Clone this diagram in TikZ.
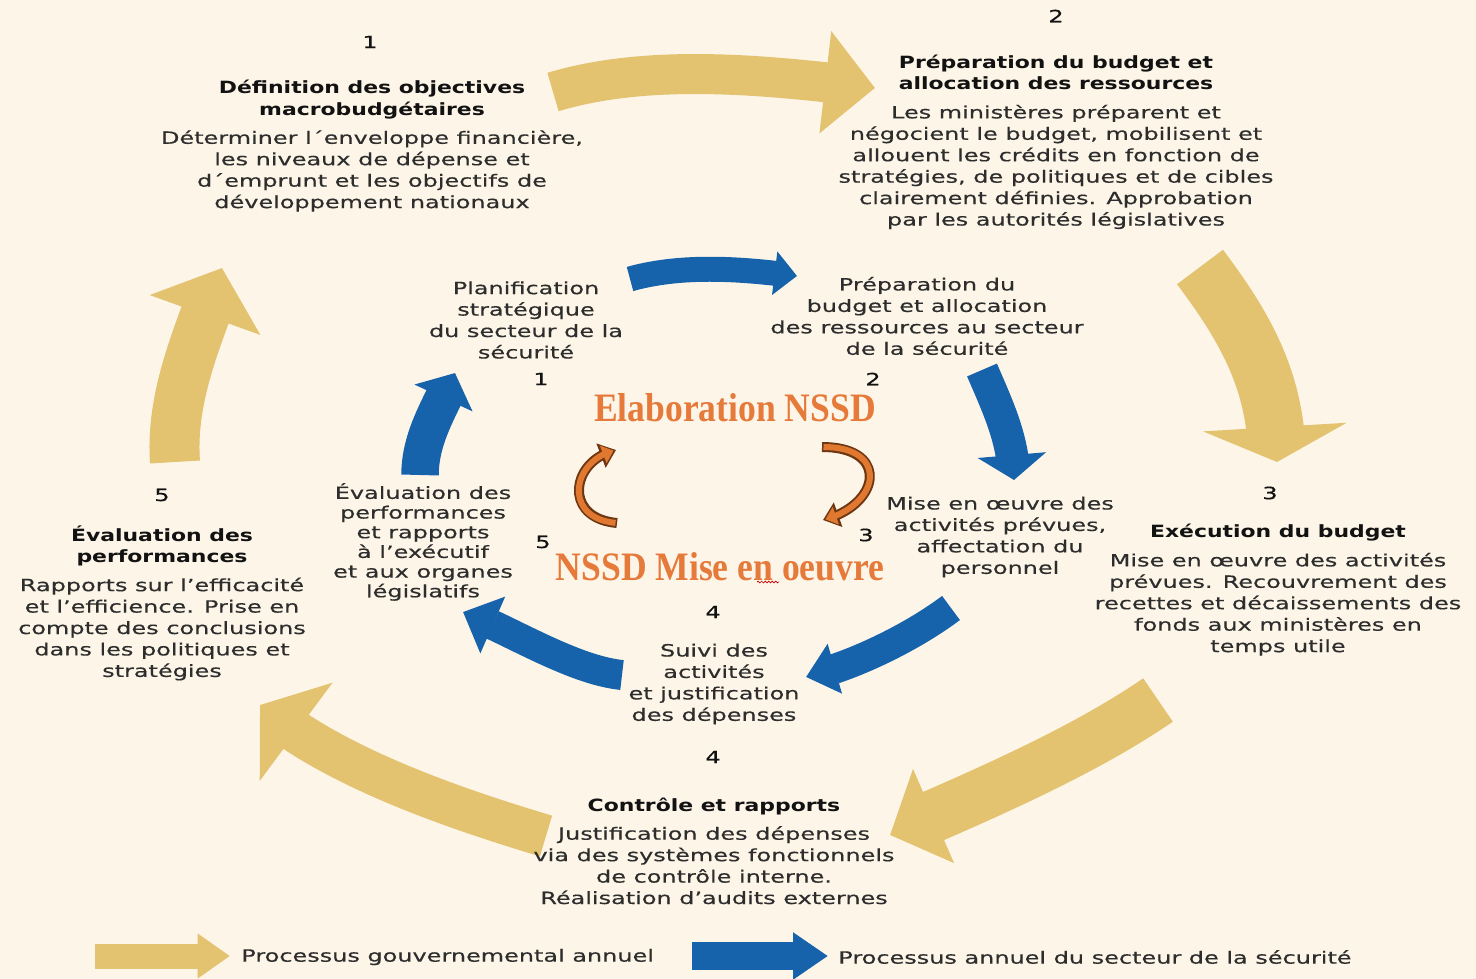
\documentclass[tikz,border=0pt]{standalone}
\usepackage{fontspec}
\setmainfont{DejaVu Sans}[FakeStretch=1.42,UprightFeatures={FakeBold=0.4},BoldFeatures={FakeStretch=1.3}]
\newfontfamily\nssdfont{Liberation Serif}[FakeStretch=0.88]
\usetikzlibrary{arrows.meta,bending,decorations.pathmorphing}
\definecolor{bgcream}{RGB}{253,246,232}
\definecolor{goldfill}{RGB}{227,194,112}
\definecolor{secblue}{RGB}{22,99,171}
\definecolor{ordark}{RGB}{110,55,20}
\definecolor{orfill}{RGB}{225,120,48}
\definecolor{nssdtext}{RGB}{230,122,58}
\definecolor{bodytext}{RGB}{45,45,45}
\definecolor{titletext}{RGB}{18,18,18}
\newcommand{\ttl}[1]{{\color{titletext}\bfseries #1}}
\tikzset{
  basetext/.style={align=center,inner sep=0pt,text=bodytext,font=\fontsize{9.6}{12.2}\selectfont},
  numnode/.style={basetext,text=titletext},
  stagenode/.style={basetext},
  secnode/.style={basetext},
  legnode/.style={basetext,anchor=west},
  nssdnode/.style={inner sep=0pt,text=nssdtext,font=\nssdfont\bfseries\fontsize{23}{26}\selectfont},
  goldarr/.style n args={3}{line width=#1,color=goldfill,-{Triangle[length=#2,width=#3]}},
  bluearr/.style n args={3}{line width=#1,color=secblue,-{Triangle[length=#2,width=#3]}},
  orouter/.style={line width=0.2cm,color=ordark,-{Triangle[length=0.32cm,width=0.5cm]}},
  orinner/.style={line width=0.12cm,color=orfill,shorten <=0.03cm,shorten >=0.05cm,-{Triangle[length=0.22cm,width=0.36cm]}},
  squiggle/.style={red!80!black,line width=0.4pt,decorate,decoration={snake,amplitude=0.5pt,segment length=2pt}}
}

\begin{document}
\begin{tikzpicture}[x=0.02cm,y=-0.02cm]
  \fill[bgcream] (0,0) rectangle (1476,979);
  \useasboundingbox (0,0) rectangle (1476,979);

  \coordinate (gAs) at (553,92);   \coordinate (gAe) at (875,88);
  \coordinate (gBs) at (1200,267); \coordinate (gBe) at (1277,462);
  \coordinate (gCs) at (1158,700); \coordinate (gCe) at (890,835);
  \coordinate (gDs) at (546,836);  \coordinate (gDe) at (260,705);
  \coordinate (gEs) at (175,462);  \coordinate (gEe) at (222,268);
  \coordinate (bAs) at (630,279);  \coordinate (bAe) at (797,276);
  \coordinate (bBs) at (982,370);  \coordinate (bBe) at (1014,480);
  \coordinate (bCs) at (951,608);  \coordinate (bCe) at (806,677);
  \coordinate (bDs) at (622,675);  \coordinate (bDe) at (463,612);
  \coordinate (bEs) at (420,475);  \coordinate (bEe) at (455,373);
  \coordinate (oLs) at (617,523);  \coordinate (oLe) at (616,450);
  \coordinate (oRs) at (822,447);  \coordinate (oRe) at (823,520);
  \coordinate (lgs) at (95,956);   \coordinate (lge) at (230,956);
  \coordinate (lbs) at (692,956);  \coordinate (lbe) at (828,956);

  \draw[goldarr={0.8cm}{1cm}{2cm}] (gAs) .. controls +(100,-30) and +(-100,-12) .. (gAe);
  \draw[goldarr={1.15cm}{0.7cm}{2.85cm}] (gBs) .. controls +(45,60) and +(0,-80) .. (gBe);
  \draw[goldarr={1.05cm}{0.95cm}{2cm}] (gCs) .. controls +(-80,55) and +(80,-35) .. (gCe);
  \draw[goldarr={0.85cm}{0.9cm}{2.4cm}] (gDs) .. controls +(-100,-30) and +(70,60) .. (gDe);
  \draw[goldarr={1cm}{1cm}{2.3cm}] (gEs) .. controls +(-5,-70) and +(-20,60) .. (gEe);

  \draw[bluearr={0.5cm}{0.45cm}{0.85cm}] (bAs) .. controls +(50,-14) and +(-60,-8) .. (bAe);
  \draw[bluearr={0.65cm}{0.5cm}{1.35cm}] (bBs) .. controls +(15,35) and +(0,-40) .. (bBe);
  \draw[bluearr={0.6cm}{0.6cm}{1cm}] (bCs) .. controls +(-40,30) and +(45,-10) .. (bCe);
  \draw[bluearr={0.6cm}{0.65cm}{1.2cm}] (bDs) .. controls +(-50,-5) and +(45,17) .. (bDe);
  \draw[bluearr={0.75cm}{0.55cm}{1.25cm}] (bEs) .. controls +(0,-40) and +(-12,30) .. (bEe);

  \draw[orouter] (oLs) .. controls +(-55,-5) and +(-45,10) .. (oLe);
  \draw[orinner] (oLs) .. controls +(-55,-5) and +(-45,10) .. (oLe);
  \draw[orouter] (oRs) .. controls +(68,0) and +(58,-15) .. (oRe);
  \draw[orinner] (oRs) .. controls +(68,0) and +(58,-15) .. (oRe);

  \node[numnode] (n1) at (370,42) {1};
  \node[stagenode] (s1) at (372,146)
      {\ttl{Définition des objectives}\\ \ttl{macrobudgétaires}\\[4pt]
       Déterminer l´enveloppe financière,\\ les niveaux de dépense et\\
       d´emprunt et les objectifs de\\ développement nationaux};
  \node[numnode] (n2) at (1056,16) {2};
  \node[stagenode] (s2) at (1056,142)
      {\ttl{Préparation du budget et}\\ \ttl{allocation des ressources}\\[4pt]
       Les ministères préparent et\\ négocient le budget, mobilisent et\\
       allouent les crédits en fonction de\\ stratégies, de politiques et de cibles\\
       clairement définies. Approbation\\ par les autorités législatives};
  \node[numnode] (n3) at (1270,493) {3};
  \node[stagenode] (s3) at (1278,590)
      {\ttl{Exécution du budget}\\[4pt]
       Mise en œuvre des activités\\ prévues. Recouvrement des\\
       recettes et décaissements des\\ fonds aux ministères en\\ temps utile};
  \node[numnode] (n4) at (713,757) {4};
  \node[stagenode] (s4) at (714,851)
      {\ttl{Contrôle et rapports}\\[4pt]
       Justification des dépenses\\ via des systèmes fonctionnels\\
       de contrôle interne.\\ Réalisation d’audits externes};
  \node[numnode] (n5) at (162,495) {5};
  \node[stagenode] (s5) at (162,603)
      {\ttl{Évaluation des}\\ \ttl{performances}\\[4pt]
       Rapports sur l’efficacité\\ et l’efficience. Prise en\\
       compte des conclusions\\ dans les politiques et\\ stratégies};

  \node[secnode] (p1) at (526,320) {Planification\\ stratégique\\ du secteur de la\\ sécurité};
  \node[numnode] (m1) at (541,379) {1};
  \node[secnode] (p2) at (927,316) {Préparation du\\ budget et allocation\\ des ressources au secteur\\ de la sécurité};
  \node[numnode] (m2) at (873,379) {2};
  \node[secnode] (p3) at (1000,537) {Mise en œuvre des\\ activités prévues,\\ affectation du\\ personnel};
  \node[numnode] (m3) at (866,535) {3};
  \node[secnode] (p4) at (714,684) {Suivi des\\ activités\\ et justification\\ des dépenses};
  \node[numnode] (m4) at (713,612) {4};
  \node[secnode,font=\fontsize{9.6}{11.2}\selectfont] (p5) at (423,542)
      {Évaluation des\\ performances\\ et rapports\\ à l’exécutif\\ et aux organes\\ législatifs};
  \node[numnode] (m5) at (543,542) {5};

  \node[nssdnode] (elab) at (735,408) {Elaboration NSSD};
  \node[nssdnode] (mise) at (720,567) {NSSD Mise en oeuvre};
  \draw[squiggle] (757,582) -- (779,582);

  \draw[goldarr={0.5cm}{0.65cm}{0.86cm}] (lgs) -- (lge);
  \node[legnode] (leg1) at (241,957) {Processus gouvernemental annuel};
  \draw[bluearr={0.55cm}{0.7cm}{0.9cm}] (lbs) -- (lbe);
  \node[legnode] (leg2) at (838,957) {Processus annuel du secteur de la sécurité};
\end{tikzpicture}
\end{document}
